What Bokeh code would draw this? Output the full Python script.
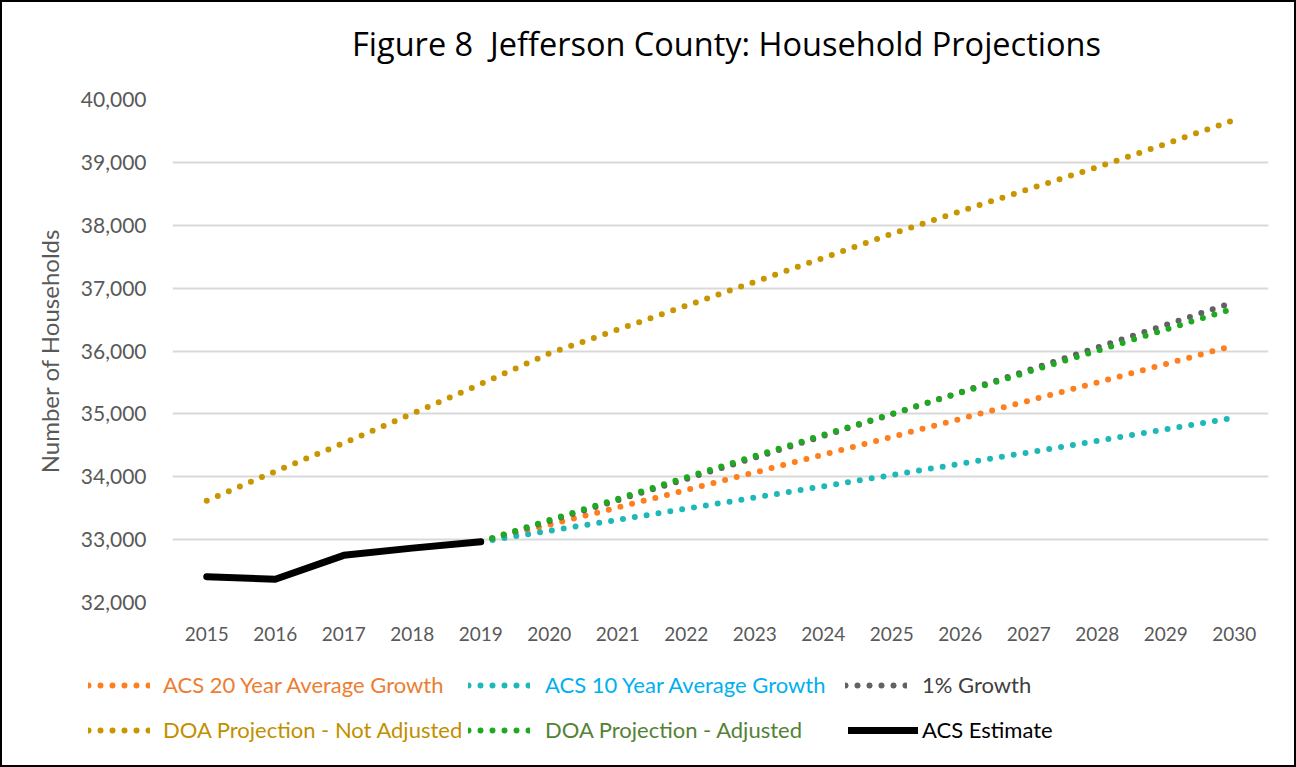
from bokeh.plotting import figure
from bokeh.layouts import column, row
from bokeh.models import FactorRange, Range1d, FixedTicker, NumeralTickFormatter, Legend, LegendItem
from bokeh.embed import file_html
from bokeh.resources import INLINE

# ---------------- data ----------------
years = ["2015", "2016", "2017", "2018", "2019", "2020", "2021", "2022",
         "2023", "2024", "2025", "2026", "2027", "2028", "2029", "2030"]
years_est = ["2015", "2016", "2017", "2018", "2019"]
years_proj = ["2019", "2020", "2021", "2022", "2023", "2024", "2025",
              "2026", "2027", "2028", "2029", "2030"]

acs_estimate = [32410, 32370, 32750, 32865, 32965]
acs20_growth = [32965, 33237, 33512, 33789, 34068, 34350, 34634, 34920, 35209, 35500, 35793, 36089]
acs10_growth = [32965, 33140, 33315, 33492, 33669, 33848, 34027, 34207, 34388, 34571, 34754, 34938]
one_pct_growth = [32965, 33295, 33628, 33964, 34304, 34647, 34993, 35343, 35697, 36054, 36414, 36778]
doa_adjusted = [32965, 33310, 33650, 33990, 34330, 34665, 35000, 35335, 35670, 36005, 36340, 36680]
doa_not_adjusted = [33620, 34085, 34535, 35005, 35475, 35960, 36340, 36720, 37100, 37480,
                    37862, 38221, 38575, 38923, 39294, 39674]

y_ticks = [32000, 33000, 34000, 35000, 36000, 37000, 38000, 39000, 40000]

title_text = "Figure 8\u00a0 Jefferson County: Household Projections"
series_names = ["ACS 20 Year Average Growth", "ACS 10 Year Average Growth", "1% Growth",
                "DOA Projection - Not Adjusted", "DOA Projection - Adjusted", "ACS Estimate"]
series_x = [years_proj, years_proj, years_proj, years, years_proj, years_est]
series_y = [acs20_growth, acs10_growth, one_pct_growth, doa_not_adjusted, doa_adjusted, acs_estimate]

# ---------------- styling ----------------
FONT = "Lato"
AXIS_GRAY = "#595959"
DOT = "0 12"
LINE_COLORS = ["#FF7F1E", "#1FB8B8", "#626262", "#C89600", "#1EAA1E", "#000000"]
TEXT_COLORS = ["#ED7D31", "#00B0F0", "#404040", "#BF9000", "#548235", "#000000"]

# ---------------- title strip ----------------
tf = figure(width=1292, height=80, x_range=Range1d(0, 1), y_range=Range1d(0, 1),
            output_backend="svg", toolbar_location=None,
            min_border_left=176, min_border_right=20, min_border_top=63, min_border_bottom=0,
            x_axis_location=None, y_axis_location=None)
tf.outline_line_color = None
tf.xgrid.visible = False
tf.ygrid.visible = False
tf.title.text = title_text
tf.title.align = "center"
tf.title.vertical_align = "bottom"
tf.title.text_font = "Open Sans"
tf.title.text_font_size = "32.5px"
tf.title.text_font_style = "normal"
tf.title.text_color = "#000000"
tf.title.standoff = 0

# ---------------- main chart ----------------
p = figure(width=1292, height=578,
           x_range=FactorRange(factors=years, range_padding=0),
           y_range=Range1d(32000, 40000),
           output_backend="svg", toolbar_location=None,
           min_border_left=170, min_border_right=26,
           min_border_top=17, min_border_bottom=58)

p.outline_line_color = None
p.xgrid.grid_line_color = None
p.ygrid.grid_line_color = "#D9D9D9"
p.ygrid.grid_line_width = 2

p.yaxis.ticker = FixedTicker(ticks=y_ticks)
p.yaxis.formatter = NumeralTickFormatter(format="0,0")
p.yaxis.axis_label = "Number of Households"
p.yaxis.axis_label_text_font = FONT
p.yaxis.axis_label_text_font_size = "24px"
p.yaxis.axis_label_text_font_style = "normal"
p.yaxis.axis_label_text_color = AXIS_GRAY
p.yaxis.axis_label_standoff = 14
p.yaxis.major_label_standoff = 20

for ax in (p.xaxis[0], p.yaxis[0]):
    ax.axis_line_color = None
    ax.major_tick_line_color = None
    ax.minor_tick_line_color = None
    ax.major_label_text_font = FONT
    ax.major_label_text_color = AXIS_GRAY
p.xaxis.major_label_text_font_size = "19px"
p.yaxis.major_label_text_font_size = "21px"
p.xaxis.major_label_standoff = 18

def draw(fig, i):
    if i == 5:
        return fig.line(series_x[i], series_y[i], line_color=LINE_COLORS[i], line_width=7,
                        line_cap="round", line_join="round")
    return fig.line(series_x[i], series_y[i], line_color=LINE_COLORS[i], line_width=6,
                    line_dash=DOT, line_cap="round")

for i in range(6):
    draw(p, i)

# ---------------- legend strip (one legend per item so label colours match) ----------------
# same series drawn into a strip whose y range excludes them: only the legend glyphs show
lf = figure(width=1292, height=105, x_range=p.x_range, y_range=Range1d(0, 1),
            output_backend="svg", toolbar_location=None,
            min_border=0, x_axis_location=None, y_axis_location=None)
lf.outline_line_color = None
lf.xgrid.visible = False
lf.ygrid.visible = False

leg_renderers = [draw(lf, i) for i in range(6)]

legend_pos = [(86, 67), (466, 67), (843, 67), (86, 22), (466, 22), (846, 22)]
glyph_w = [62, 62, 62, 62, 62, 70]
standoff = [13, 15, 15, 13, 15, 4]
for i in range(6):
    leg = Legend(items=[LegendItem(label=series_names[i], renderers=[leg_renderers[i]])],
                 location=legend_pos[i], orientation="horizontal",
                 padding=0, margin=0, spacing=0,
                 border_line_color=None, background_fill_alpha=0,
                 glyph_width=glyph_w[i], glyph_height=26, label_height=26,
                 label_standoff=standoff[i],
                 label_text_font=FONT, label_text_font_size="22px",
                 label_text_color=TEXT_COLORS[i])
    lf.add_layout(leg)

layout = column(row(tf), p, row(lf), spacing=0, styles={"border": "2px solid #000000"})

open("out.html", "w").write(file_html(layout, INLINE))
